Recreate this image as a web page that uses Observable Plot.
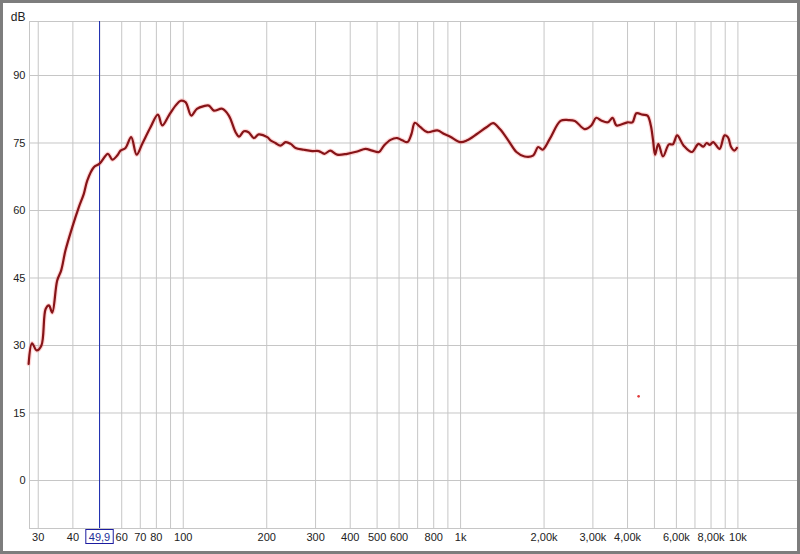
<!DOCTYPE html>
<html><head><meta charset="utf-8">
<script src="https://cdn.jsdelivr.net/npm/d3@7"></script>
<script src="https://cdn.jsdelivr.net/npm/@observablehq/plot@0.6"></script>
<style>
html,body{margin:0;padding:0;background:#fff;}
#wrap{position:relative;width:800px;height:554px;overflow:hidden;background:#fff;}
#wrap svg{position:absolute;left:0;top:0;}
#border{position:absolute;left:0;top:0;width:800px;height:554px;box-sizing:border-box;border:3px solid #7d7d7d;pointer-events:none;}
</style></head><body><div id="wrap"><div id="border"></div></div>
<script>
// Frequency response (Hz) and level (dB)
const freq = [27.7,28.5,29.6,30.8,31.9,32.8,33.7,35.1,36.3,37.6,39.8,42.0,43.8,45.1,47.6,49.9,53.5,55.5,57.8,59.4,61.9,64.9,67.9,71.1,76.2,81.0,84.0,88.7,93.8,97.8,101.9,106.9,112,118.7,123.7,128.9,138.2,146.0,154.4,159,165.4,172,179.7,187,200.9,206.4,215,224,234,244,254,272,292,308,323,339,359,390,424,454,480,508,529,559,591,616,643,665,684,717,759,825,873,918,998,1055,1145,1240,1310,1386,1485,1590,1701,1825,1905,1975,2097,2293,2447,2584,2802,2960,3085,3214,3394,3535,3652,3997,4165,4305,4530,4719,4852,4944,5026,5166,5368,5639,5827,6038,6374,6824,7206,7505,7712,7922,8140,8590,8950,9200,9450,9700,9920];
const db = [25.9,30.5,28.9,30.0,38.1,38.9,37.3,44.4,46.7,51.1,56.3,60.7,63.7,66.7,69.6,70.4,72.6,71.3,72.2,73.3,73.9,76.3,72.4,74.8,78.5,81.3,78.9,81.1,83.3,84.4,84.1,81.1,82.6,83.2,83.3,82.2,82.6,81.1,77.4,76.4,77.6,77.4,76.1,76.9,76.3,75.6,75.0,74.4,75.2,74.8,73.9,73.5,73.2,73.2,72.6,73.3,72.4,72.6,73.1,73.7,73.3,73.0,74.4,75.7,76.1,75.6,75.2,77.0,79.5,78.5,77.4,77.8,77.0,76.4,75.2,75.6,77.0,78.5,79.4,78.1,75.6,73.0,72.0,72.2,74.1,73.5,75.9,79.9,80.1,79.9,78.1,78.9,80.6,80.0,79.6,80.6,78.9,79.6,79.6,81.6,81.3,81.1,78.9,75.6,72.4,74.8,72.0,74.7,74.7,76.7,74.4,73.0,74.8,74.2,75.0,74.6,75.2,73.7,76.7,76.3,74.1,73.3,73.9];

const gridFreqs = [30,40,50,60,70,80,90,100,200,300,400,500,600,700,800,900,1000,2000,3000,4000,5000,6000,7000,8000,9000,10000];
const tickFreqs = [30,40,60,70,80,100,200,300,400,500,600,800,1000,2000,3000,4000,6000,8000,10000];
const tickLabels = ["30","40","60","70","80","100","200","300","400","500","600","800","1k","2,00k","3,00k","4,00k","6,00k","8,00k","10k"];
const yTicks = [0,15,30,45,60,75,90];
const cursorFreq = [49.9];
const cursorLabel = ["49,9"];
const markerFreq = [4385];
const markerDb = [18.7];

const data = freq.map((f, i) => ({f, db: db[i]}));
const marker = markerFreq.map((f, i) => ({f, db: markerDb[i]}));
const xLabels = tickFreqs.map((f, i) => ({f, label: tickLabels[i]}));
const cursor = cursorFreq.map((f, i) => ({f, label: cursorLabel[i]}));

const grid = "#c6c6c6";
const font = "'Liberation Sans', Arial, sans-serif";
const plot = Plot.plot({
  width: 800, height: 554,
  marginLeft: 29, marginTop: 21, marginRight: 3, marginBottom: 26,
  style: {fontFamily: font, fontSize: "11px", color: "#222", background: "transparent", overflow: "visible"},
  x: {type: "log", domain: [27.9, 16400], axis: null},
  y: {domain: [-10.67, 102], axis: null},
  marks: [
    Plot.gridX(gridFreqs, {stroke: grid, strokeOpacity: 1}),
    Plot.gridY(yTicks, {stroke: grid, strokeOpacity: 1}),
    Plot.frame({stroke: grid}),
    Plot.text(yTicks, {y: d => d, text: d => String(d), frameAnchor: "left", dx: -4, textAnchor: "end", fill: "#222"}),
    Plot.text(xLabels, {x: "f", text: "label", frameAnchor: "bottom", dy: 12, fill: "#222"}),
    Plot.ruleX(cursor, {x: "f", stroke: "#2030b0", strokeWidth: 1}),
    Plot.text(cursor, {x: "f", text: "label", frameAnchor: "bottom", dy: 12, fill: "#1c2f9a", className: "cursor-label"}),
    Plot.line(data, {x: "f", y: "db", stroke: "#ff8c8c", strokeWidth: 4.5, strokeOpacity: 0.35, curve: "catmull-rom"}),
    Plot.line(data, {x: "f", y: "db", stroke: "#861418", strokeWidth: 2.2, curve: "catmull-rom"}),
    Plot.dot(marker, {x: "f", y: "db", r: 1.3, fill: "#e03a3a"}),
    Plot.text(["dB"], {frameAnchor: "top-left", dx: -4, dy: -9, textAnchor: "end", fontSize: 12, fill: "#222"})
  ]
});
const wrap = document.getElementById("wrap");
wrap.insertBefore(plot, wrap.firstChild);

// box around the cursor label
d3.select(plot).selectAll("g.cursor-label text").each(function() {
  const b = this.getBBox();
  d3.select(this.parentNode).insert("rect", () => this)
    .attr("x", b.x - 3).attr("y", b.y - 1)
    .attr("width", b.width + 6).attr("height", b.height + 2)
    .attr("fill", "#fff").attr("stroke", "#1c1ca0").attr("stroke-width", 1)
    .attr("transform", this.getAttribute("transform"));
});
</script>
</body></html>
